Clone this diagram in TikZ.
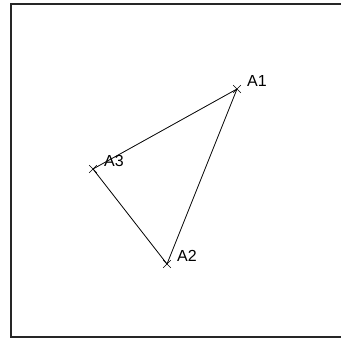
\documentclass[tikz,border=0pt]{standalone}
\usepackage{fontspec}
\setmainfont{Liberation Sans}
\usetikzlibrary{shapes.misc}
\begin{document}
\begin{tikzpicture}[x=1pt,y=-1pt,
  pt/.style={draw,cross out,minimum size=7pt,inner sep=0pt,line width=0.6pt},
  lbl/.style={anchor=west,inner sep=0pt,font=\fontsize{16}{18}\selectfont},
  edge/.style={line width=0.8pt},
  frame/.style={line width=1.4pt,draw=black!85}]
\useasboundingbox (0,0) rectangle (341,341);
\draw[frame] (341,4) -- (11,4) -- (11,337) -- (341,337);
\node[pt] (A1) at (237,89) {};
\node[pt] (A2) at (167,264) {};
\node[pt] (A3) at (93,169) {};
\draw[edge] (A1.center) -- (A2.center) -- (A3.center) -- (A1.center);
\node[lbl] (L1) at (247,81) {A1};
\node[lbl] (L2) at (177,256) {A2};
\node[lbl] (L3) at (104,161) {A3};
\end{tikzpicture}
\end{document}
